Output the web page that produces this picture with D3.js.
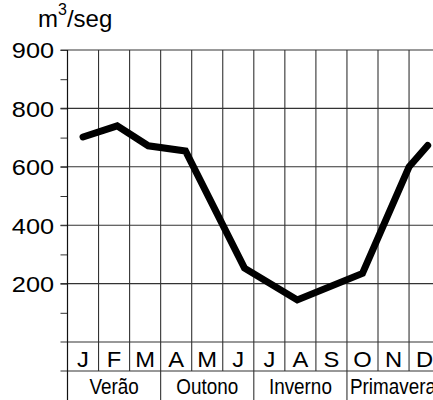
<!DOCTYPE html>
<html>
<head>
<meta charset="utf-8">
<script src="https://cdn.jsdelivr.net/npm/d3@7"></script>
<style>
  body { margin: 0; background: #fff; }
  svg { display: block; font-family: "Liberation Sans", Arial, sans-serif; }
</style>
</head>
<body>
<svg id="chart"></svg>
<script>
// months and seasons along the bottom
const months = ["J", "F", "M", "A", "M", "J", "J", "A", "S", "O", "N", "D"];
const seasons = ["Verão", "Outono", "Inverno", "Primavera"];

// flow line: position along the month axis (0 = Jan) and m3/seg
const flowPos = [0, 1.1, 2.1, 3.3, 5.2, 6.9, 9.0, 10.5, 11.1];
const flowValue = [702, 740, 672, 654, 253, 144, 235, 600, 673];

// y ticks (the top line is printed as 900 on the original)
const yTicks = [200, 400, 600, 800, 1000];
const yTickLabels = ["200", "400", "600", "800", "900"];
const yMinor = [100, 300, 500, 700, 900];

let w = 433;
let h = 400;
let marginL = 67.5;
let colW = 31.05;
let monthRowH = 29;

let chart = d3.select('#chart')
  .attr('width', w)
  .attr('height', h);

let xBand = d3.scaleBand()
  .domain(d3.range(months.length))
  .range([marginL, marginL + colW * months.length]);

// continuous month position -> pixel (column centres)
let xPos = d3.scaleLinear()
  .domain([-0.5, months.length - 0.5])
  .range([marginL, marginL + colW * months.length]);

let yScale = d3.scaleLinear()
  .domain([0, 1000])
  .range([342, 50]);

let rowTop = yScale(0);
let rowMid = rowTop + monthRowH;

let gridColor = '#333';

//horizontal grid lines
let hLines = [0].concat(yTicks);
chart.append('g')
  .selectAll('line')
  .data(hLines)
  .enter()
  .append('line')
  .attr('x1', marginL - 7)
  .attr('x2', w)
  .attr('y1', d => yScale(d))
  .attr('y2', d => yScale(d))
  .attr('stroke', (d, i) => i == hLines.length - 1 ? '#777' : gridColor)
  .attr('stroke-width', (d, i) => i == hLines.length - 1 ? 1.6 : 1.1);

chart.append('line')
  .attr('x1', marginL - 7)
  .attr('x2', w)
  .attr('y1', rowMid)
  .attr('y2', rowMid)
  .attr('stroke', gridColor)
  .attr('stroke-width', 1.1);

//vertical grid lines (month columns)
chart.append('g')
  .selectAll('line')
  .data(d3.range(1, months.length + 1))
  .enter()
  .append('line')
  .attr('x1', d => xBand.range()[0] + d * xBand.bandwidth())
  .attr('x2', d => xBand.range()[0] + d * xBand.bandwidth())
  .attr('y1', yScale(1000))
  .attr('y2', d => d % 3 == 0 ? h : rowMid)
  .attr('stroke', gridColor)
  .attr('stroke-width', 1.1);

//AXES
let yAxis = d3.axisLeft(yScale)
  .tickValues(yTicks)
  .tickSize(7)
  .tickFormat((d, i) => yTickLabels[i]);

let axisG = chart.append('g')
  .attr('transform', `translate(${marginL}, 0)`)
  .call(yAxis);
axisG.select('.domain').remove();
axisG.selectAll('line').attr('stroke', gridColor);
axisG.selectAll('text')
  .attr('fill', '#000')
  .style('font-size', '22px')
  .style('font-family', '"Liberation Sans", Arial, sans-serif')
  .attr('x', -13.5 / 1.15)
  .attr('dy', '0.36em')
  .attr('transform', 'scale(1.15,1)');

let minorG = chart.append('g')
  .attr('transform', `translate(${marginL}, 0)`)
  .call(d3.axisLeft(yScale).tickValues(yMinor).tickSize(7).tickFormat(''));
minorG.select('.domain').remove();
minorG.selectAll('line').attr('stroke', gridColor);

chart.append('line')
  .attr('x1', marginL)
  .attr('x2', marginL)
  .attr('y1', yScale(1000))
  .attr('y2', h)
  .attr('stroke', '#111')
  .attr('stroke-width', 1.2);

//month letters
chart.append('g')
  .selectAll('text')
  .data(months)
  .enter()
  .append('text')
  .attr('transform', (d, i) => `translate(${xBand(i) + xBand.bandwidth() / 2}, ${rowTop + 24.5}) scale(1.08,1)`)
  .attr('text-anchor', 'middle')
  .style('font-size', '22px')
  .text(d => d);

//season labels
chart.append('g')
  .selectAll('text')
  .data(seasons)
  .enter()
  .append('text')
  .attr('transform', (d, i) => {
    let x = xBand(i * 3) + xBand.bandwidth() * 1.5;
    if (i == seasons.length - 1) x = xBand(i * 3) + 3;
    return `translate(${x}, ${rowMid + 23}) scale(0.84,1)`;
  })
  .attr('text-anchor', (d, i) => i == seasons.length - 1 ? 'start' : 'middle')
  .style('font-size', '22.5px')
  .text(d => d);

//flow line
let line = d3.line()
  .x((d, i) => xPos(flowPos[i]))
  .y(d => yScale(d));

chart.append('path')
  .datum(flowValue)
  .attr('d', line)
  .attr('fill', 'none')
  .attr('stroke', '#000')
  .attr('stroke-width', 7)
  .attr('stroke-linejoin', 'miter')
  .attr('stroke-linecap', 'round');

//unit label
let unit = chart.append('text')
  .attr('x', 38)
  .attr('y', 27)
  .style('font-size', '24px');
unit.append('tspan').text('m');
unit.append('tspan').attr('dy', -12).style('font-size', '16px').text('3');
unit.append('tspan').attr('dy', 12).text('/seg');
</script>
</body>
</html>
